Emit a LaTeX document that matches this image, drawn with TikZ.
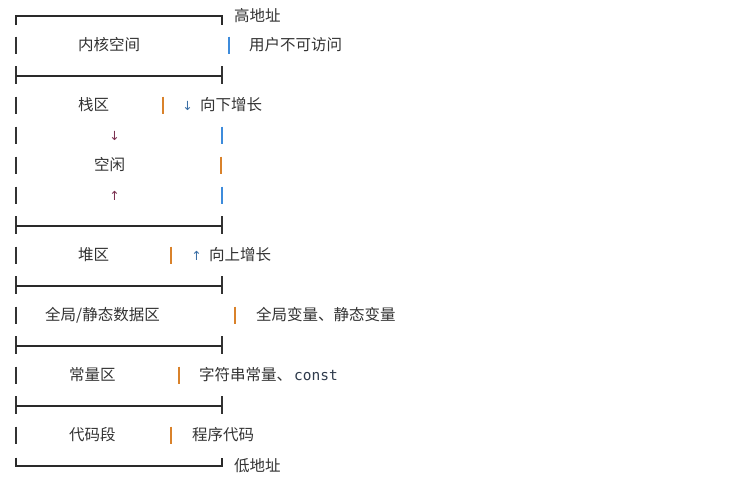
\documentclass[tikz,border=0pt]{standalone}
\usepackage{fontspec}
\setmainfont{Noto Sans CJK SC}
\newfontfamily\arrowfont{DejaVu Sans}
\newfontfamily\codefont{DejaVu Sans Mono}
\definecolor{ink}{HTML}{333333}
\definecolor{lineink}{HTML}{2A2A2A}
\definecolor{barblue}{HTML}{3D8BDB}
\definecolor{barorange}{HTML}{D9822B}
\definecolor{arrblue}{HTML}{3A6EA5}
\definecolor{arrred}{HTML}{7A3050}
\definecolor{codeink}{HTML}{2F3B4C}
\tikzset{
  lbar/.style={draw=ink, line width=1.3pt},
  hline/.style={draw=lineink, line width=1.3pt},
  tx/.style={anchor=base west, inner sep=0pt, text=ink, font=\fontsize{15.5}{18}\selectfont},
  arr/.style={anchor=center, inner sep=0pt, font=\arrowfont\fontsize{12.5}{14}\selectfont},
  bbar/.style={draw=barblue, line width=2pt},
  obar/.style={draw=barorange, line width=2pt},
}
\begin{document}
\begin{tikzpicture}[x=1pt,y=-1pt]
\useasboundingbox (0,0) rectangle (735,485);
\fill[white] (0,0) rectangle (735,485);

% outer frame pieces
\draw[hline] (16,25) -- (16,16) -- (222,16) -- (222,25);
\draw[hline] (16,457.5) -- (16,466) -- (222,466) -- (222,457.5);

% left bars
\foreach \y in {45,105,135,165,195,255,315,375,435}
  \draw[lbar] (16,\y-8.5) -- (16,\y+8.5);

% separators
\foreach \y in {75,225,285,345,405} {
  \draw[lbar] (16,\y-9) -- (16,\y+9);
  \draw[lbar] (222,\y-9) -- (222,\y+9);
  \draw[hline] (16,\y+1) -- (222,\y+1);
}

% right bars
\foreach \x/\y/\s in {229/45/bbar, 163/105/obar, 222/135/bbar, 221/165/obar, 222/195/bbar,
                      171/255/obar, 235/315/obar, 179/375/obar, 171/435/obar}
  \draw[\s] (\x,\y-8.5) -- (\x,\y+8.5);

% texts
\node[tx] (hi) at (234,21.5) {高地址};
\node[tx] (kern) at (78,50.5) {内核空间};
\node[tx] (user) at (249,50.5) {用户不可访问};
\node[tx] (stack) at (78,110.5) {栈区};
\node[arr, text=arrblue] (sdown) at (187.5,105.5) {↓};
\node[tx] (sgrow) at (200,110.5) {向下增长};
\node[arr, text=arrred] (fdown) at (114.5,135.5) {↓};
\node[tx] (free) at (94,170.5) {空闲};
\node[arr, text=arrred] (fup) at (114.5,195.5) {↑};
\node[tx] (heap) at (78,260.5) {堆区};
\node[arr, text=arrblue] (hup) at (196.5,255.5) {↑};
\node[tx] (hgrow) at (209,260.5) {向上增长};
\node[tx] (data) at (45,320.5) {全局/静态数据区};
\node[tx] (gvar) at (256,320.5) {全局变量、静态变量};
\node[tx] (const) at (69,380.5) {常量区};
\node[tx] (str) at (199,380.5) {字符串常量、\hspace{2pt}{\codefont\fontsize{14.5}{17}\selectfont\color{codeink}const}};
\node[tx] (code) at (69,440.5) {代码段};
\node[tx] (prog) at (192,440.5) {程序代码};
\node[tx] (lo) at (234,471.5) {低地址};
\end{tikzpicture}
\end{document}
